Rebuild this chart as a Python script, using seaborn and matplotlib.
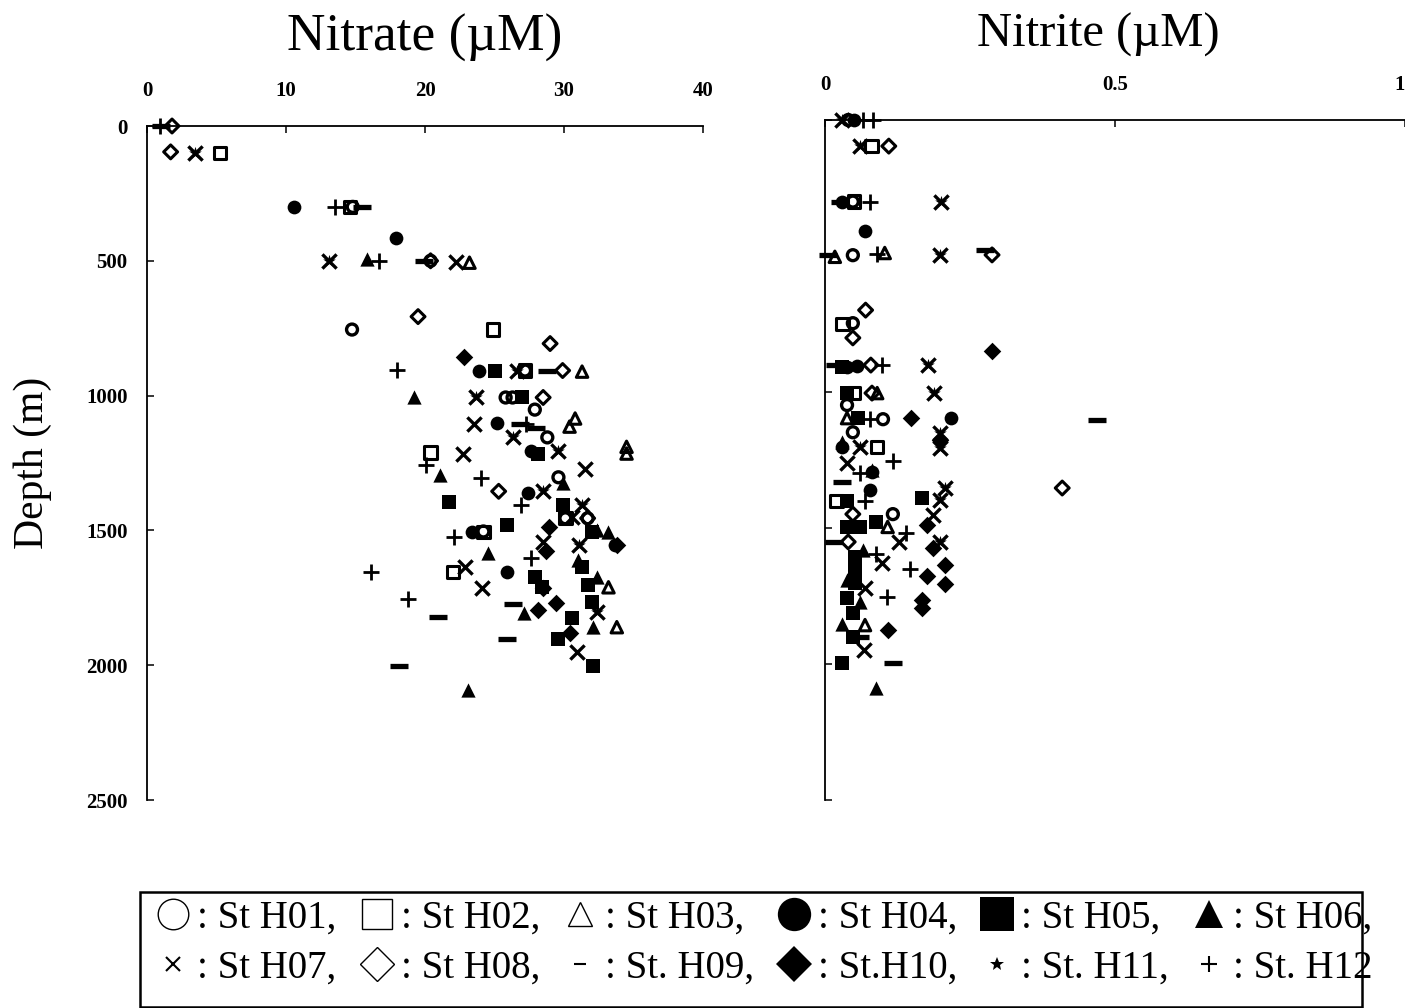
import matplotlib
matplotlib.use("Agg")
import matplotlib.pyplot as plt
from matplotlib.lines import Line2D
from matplotlib.patches import Rectangle
import seaborn as sns
import pandas as pd

sns.set_theme(style="white")
plt.rcParams["font.family"] = ["Liberation Serif", "DejaVu Serif"]

W, H = 1405, 1008

# ---------- Nitrate (uM) vs depth (m) ----------
no3_h01_x = [14.8, 20.4, 14.75, 27.2, 25.8, 26.3, 27.9, 28.8, 29.6, 30.1, 31.7, 24.2]
no3_h01_d = [300, 500, 755, 907, 1007, 1007, 1052, 1155, 1303, 1455, 1455, 1504]
no3_h02_x = [5.25, 14.6, 24.9, 27.2, 20.4, 24.2, 22.0, 30.1]
no3_h02_d = [100, 300, 755, 907, 1211, 1507, 1655, 1455]
no3_h03_x = [23.2, 31.3, 30.4, 30.8, 34.5, 34.5, 33.2, 33.8]
no3_h03_d = [507, 911, 1115, 1085, 1215, 1190, 1711, 1859]
no3_h04_x = [10.6, 17.9, 23.9, 25.2, 27.6, 27.4, 23.4, 25.9, 33.7]
no3_h04_d = [300, 415, 907, 1100, 1204, 1363, 1507, 1655, 1556]
no3_h05_x = [25.0, 27.0, 28.1, 21.7, 29.9, 25.9, 32.0, 31.3, 31.7, 32.0, 30.6, 29.6, 32.1, 27.9, 28.4]
no3_h05_d = [907, 1007, 1215, 1396, 1407, 1481, 1507, 1637, 1704, 1767, 1826, 1904, 2004, 1674, 1711]
no3_h06_x = [15.8, 19.2, 21.1, 24.5, 27.1, 23.1, 29.9, 33.2, 32.4, 32.4, 32.1, 31.0]
no3_h06_d = [493, 1007, 1293, 1585, 1807, 2093, 1326, 1507, 1500, 1674, 1859, 1611]
no3_h07_x = [3.45, 13.1, 22.2, 26.6, 23.7, 23.5, 26.3, 22.7, 29.6, 31.5, 28.5, 31.3, 30.6, 31.1, 22.9, 24.1, 32.4, 30.9, 28.5]
no3_h07_d = [100, 500, 504, 907, 1007, 1104, 1155, 1215, 1207, 1274, 1355, 1407, 1452, 1556, 1637, 1715, 1804, 1952, 1544]
no3_h08_x = [1.8, 1.7, 20.4, 19.5, 29.0, 29.9, 28.5, 25.3, 31.7]
no3_h08_d = [0, 96, 500, 707, 807, 907, 1007, 1355, 1455]
no3_h09_x = [1.0, 15.5, 19.9, 28.8, 26.8, 28.0, 20.9, 26.3, 25.9, 18.1]
no3_h09_d = [0, 300, 500, 907, 1104, 1122, 1822, 1774, 1904, 2004]
no3_h10_x = [22.8, 28.9, 28.7, 28.1, 29.4, 28.5, 33.8, 30.4]
no3_h10_d = [856, 1489, 1578, 1796, 1770, 1715, 1556, 1881]
no3_h11_x = [3.45, 13.1, 26.6, 23.7, 26.3, 29.6, 28.5, 31.3, 31.1, 32.4]
no3_h11_d = [100, 500, 907, 1007, 1155, 1207, 1355, 1407, 1556, 1804]
no3_h12_x = [0.9, 13.5, 16.7, 18.0, 27.3, 20.1, 24.0, 26.9, 22.1, 16.1, 18.8, 27.6]
no3_h12_d = [0, 300, 500, 904, 1104, 1259, 1307, 1404, 1526, 1655, 1755, 1604]

# ---------- Nitrite (uM) vs depth (m) ----------
no2_h01_x = [0.04, 0.048, 0.048, 0.048, 0.038, 0.1, 0.048, 0.117]
no2_h01_d = [0, 300, 497, 747, 1048, 1100, 1148, 1449]
no2_h02_x = [0.08, 0.05, 0.03, 0.05, 0.09, 0.02]
no2_h02_d = [96, 300, 750, 1004, 1202, 1400]
no2_h03_x = [0.017, 0.103, 0.09, 0.038, 0.108, 0.069]
no2_h03_d = [503, 489, 1004, 1096, 1496, 1857]
no2_h04_x = [0.05, 0.03, 0.069, 0.038, 0.055, 0.217, 0.03, 0.081, 0.078, 0.048]
no2_h04_d = [0, 300, 408, 908, 905, 1096, 1202, 1294, 1360, 1680]
no2_h05_x = [0.03, 0.038, 0.057, 0.167, 0.038, 0.038, 0.06, 0.088, 0.052, 0.052, 0.052, 0.038, 0.048, 0.048, 0.029]
no2_h05_d = [908, 1004, 1096, 1390, 1400, 1496, 1496, 1478, 1607, 1654, 1702, 1757, 1813, 1900, 1996]
no2_h06_x = [0.029, 0.081, 0.066, 0.038, 0.06, 0.029, 0.088]
no2_h06_d = [1184, 1287, 1581, 1691, 1772, 1853, 2088]
no2_h07_x = [0.029, 0.06, 0.2, 0.198, 0.178, 0.188, 0.198, 0.198, 0.06, 0.038, 0.207, 0.198, 0.186, 0.128, 0.198, 0.098, 0.069, 0.067]
no2_h07_d = [0, 96, 301, 496, 901, 1004, 1151, 1206, 1202, 1261, 1353, 1397, 1452, 1551, 1551, 1629, 1720, 1948]
no2_h08_x = [0.11, 0.288, 0.07, 0.048, 0.079, 0.081, 0.409, 0.048, 0.04]
no2_h08_d = [96, 496, 699, 801, 901, 1004, 1353, 1449, 1551]
no2_h09_x = [0.026, 0.005, 0.276, 0.017, 0.469, 0.029, 0.016, 0.06, 0.117]
no2_h09_d = [300, 497, 478, 901, 1103, 1331, 1551, 1900, 1996]
no2_h10_x = [0.288, 0.148, 0.198, 0.176, 0.186, 0.207, 0.176, 0.207, 0.167, 0.167, 0.108]
no2_h10_d = [849, 1096, 1176, 1489, 1574, 1636, 1676, 1706, 1765, 1794, 1875]
no2_h11_x = [0.029, 0.06, 0.2, 0.198, 0.178, 0.188, 0.198, 0.198, 0.06, 0.207, 0.198, 0.198]
no2_h11_d = [0, 96, 301, 496, 901, 1004, 1151, 1206, 1202, 1353, 1397, 1551]
no2_h12_x = [0.065, 0.083, 0.078, 0.09, 0.098, 0.078, 0.117, 0.06, 0.069, 0.14, 0.088, 0.147, 0.107]
no2_h12_d = [0, 0, 301, 493, 901, 1100, 1254, 1298, 1400, 1519, 1596, 1651, 1754]

stations = ["H01", "H02", "H03", "H04", "H05", "H06", "H07", "H08", "H09", "H10", "H11", "H12"]
labels = [": St H01,", ": St H02,", ": St H03,", ": St H04,", ": St H05,", ": St H06,",
          ": St H07,", ": St H08,", ": St. H09,", ": St.H10,", ": St. H11,", ": St. H12"]
no3_x = [no3_h01_x, no3_h02_x, no3_h03_x, no3_h04_x, no3_h05_x, no3_h06_x, no3_h07_x, no3_h08_x, no3_h09_x, no3_h10_x, no3_h11_x, no3_h12_x]
no3_d = [no3_h01_d, no3_h02_d, no3_h03_d, no3_h04_d, no3_h05_d, no3_h06_d, no3_h07_d, no3_h08_d, no3_h09_d, no3_h10_d, no3_h11_d, no3_h12_d]
no2_x = [no2_h01_x, no2_h02_x, no2_h03_x, no2_h04_x, no2_h05_x, no2_h06_x, no2_h07_x, no2_h08_x, no2_h09_x, no2_h10_x, no2_h11_x, no2_h12_x]
no2_d = [no2_h01_d, no2_h02_d, no2_h03_d, no2_h04_d, no2_h05_d, no2_h06_d, no2_h07_d, no2_h08_d, no2_h09_d, no2_h10_d, no2_h11_d, no2_h12_d]

# marker, filled, size (pt^2), edge width, legend size
style = {
    "H01": ("o", False, 62, 2.4, 22),
    "H02": ("s", False, 78, 2.2, 21),
    "H03": ("^", False, 68, 2.2, 17),
    "H04": ("o", True, 98, 0, 24),
    "H05": ("s", True, 108, 0, 24),
    "H06": ("^", True, 105, 0, 20),
    "H07": ("x", True, 105, 2.4, 10),
    "H08": ("D", False, 50, 2.2, 17),
    "H09": ("_", True, 150, 3.8, 8),
    "H10": ("D", True, 80, 0, 18),
    "H11": ("*", True, 90, 0, 10),
    "H12": ("+", True, 125, 2.0, 12),
}


def panel(ax, xs, ds):
    for st, x, d in zip(stations, xs, ds):
        m, filled, s, lw, _ = style[st]
        df = pd.DataFrame({"value": x, "depth": d})
        if m in ("x", "_", "+"):
            sns.scatterplot(data=df, x="value", y="depth", ax=ax, marker=m, s=s,
                            color="black", linewidth=lw, clip_on=False, zorder=3)
        else:
            sns.scatterplot(data=df, x="value", y="depth", ax=ax, marker=m, s=s,
                            color="black", facecolor="black" if filled else "none",
                            edgecolor="black", linewidth=lw, clip_on=False, zorder=3)
    ax.set_xlabel("")
    ax.set_ylabel("")


def axes_px(l, t, r, b):
    return [l / W, 1 - b / H, (r - l) / W, (b - t) / H]


fig = plt.figure(figsize=(W / 100, H / 100), dpi=100, facecolor="white")
ax1 = fig.add_axes(axes_px(147, 126, 703, 800))
ax2 = fig.add_axes(axes_px(825, 120, 1405, 800))

panel(ax1, no3_x, no3_d)
panel(ax2, no2_x, no2_d)

ax1.set_xlim(0, 40)
ax1.set_xticks([0, 10, 20, 30, 40])
ax2.set_xlim(0, 1)
ax2.set_xticks([0, 0.5, 1])
ax2.set_xticklabels(["0", "0.5", "1"])
ax1.set_yticks([0, 500, 1000, 1500, 2000, 2500])
ax2.set_yticks([0, 500, 1000, 1500, 2000, 2500])
ax2.set_yticklabels([])

for ax in (ax1, ax2):
    ax.set_ylim(2500, 0)
    ax.xaxis.tick_top()
    ax.grid(False)
    ax.set_facecolor("none")
    for sp in ("right", "bottom"):
        ax.spines[sp].set_visible(False)
    for sp in ("left", "top"):
        ax.spines[sp].set_color("black")
        ax.spines[sp].set_linewidth(1.3)
    ax.tick_params(axis="both", direction="in", length=5, width=1.1, color="black",
                   left=True, top=True, labelsize=15, pad=12, labelcolor="black")
    for t in ax.get_xticklabels() + ax.get_yticklabels():
        t.set_fontweight("bold")
ax1.tick_params(axis="y", pad=14)
ax1.tick_params(axis="x", pad=18)
ax2.tick_params(axis="x", pad=18)
ax2.get_xticklabels()[-1].set_ha("right")

fig.text(425 / W, 1 - 38 / H, "Nitrate (\u00b5M)", fontsize=38.4, ha="center", va="center", color="black")
fig.text(1098 / W, 1 - 35 / H, "Nitrite (\u00b5M)", fontsize=35, ha="center", va="center", color="black")
fig.text(33 / W, 1 - 463 / H, "Depth (m)", fontsize=30, rotation=90, ha="center", va="center", color="black")

# legend box with a real legend inside
fig.add_artist(Rectangle((140 / W, 1 - 1007 / H), 1222 / W, 115 / H, transform=fig.transFigure,
                         facecolor="white", edgecolor="black", linewidth=1.8, zorder=1))
handles = []
for st in stations:
    m, filled, s, lw, ms = style[st]
    open_mk = not filled
    handles.append(Line2D([], [], ls="", marker=m, ms=ms, color="black",
                          mfc="none" if open_mk else "black", mec="black",
                          mew=1.0 if open_mk else (1.5 if m in ("x", "+", "_") else 0)))
# matplotlib fills legends column by column
order = [0, 6, 1, 7, 2, 8, 3, 9, 4, 10, 5, 11]
leg = fig.legend([handles[i] for i in order], [labels[i] for i in order], ncols=6,
                 loc="upper left", bbox_to_anchor=(143 / W, 1 - 888 / H),
                 frameon=False, fontsize=28, labelcolor="black",
                 handlelength=0.95, handletextpad=0.15, columnspacing=0.55,
                 labelspacing=0.33, borderpad=0.3, borderaxespad=0)
leg.set_zorder(2)

fig.savefig("out.png", dpi=100, facecolor="white")
